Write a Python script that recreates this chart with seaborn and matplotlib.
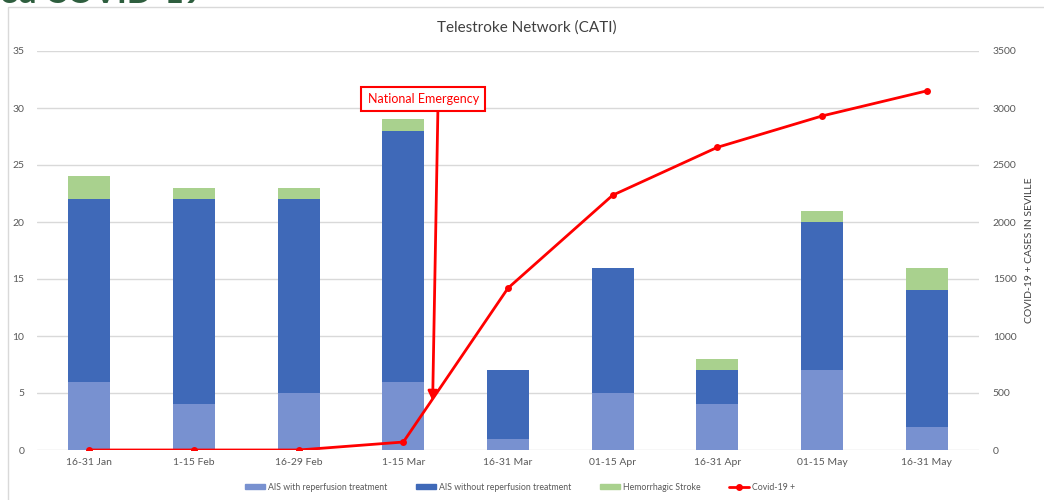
import numpy as np
import pandas as pd
import matplotlib
matplotlib.use("Agg")
import matplotlib.pyplot as plt
import seaborn as sns
from matplotlib.patches import Patch, Rectangle
from matplotlib.lines import Line2D

periods = ["16-31 Jan", "1-15 Feb", "16-29 Feb", "1-15 Mar", "16-31 Mar",
           "01-15 Apr", "16-31 Apr", "01-15 May", "16-31 May"]
ais_reperfusion = [6, 4, 5, 6, 1, 5, 4, 7, 2]
ais_no_reperfusion = [16, 18, 17, 22, 6, 11, 3, 13, 12]
hemorrhagic = [2, 1, 1, 1, 0, 0, 1, 1, 2]
covid_cases = [0, 0, 0, 70, 1420, 2235, 2655, 2930, 3150]

sns.set_theme(style="white")
plt.rcParams['font.family'] = ['Lato', 'DejaVu Sans']

c_light = "#7891D0"
c_dark = "#3F69B8"
c_green = "#A9D18E"
c_red = "#FF0000"
c_text = "#595959"

df = pd.DataFrame({
    "period": periods,
    "s1": ais_reperfusion,
    "s2": np.add(ais_reperfusion, ais_no_reperfusion),
    "s3": np.add(np.add(ais_reperfusion, ais_no_reperfusion), hemorrhagic),
})

fig = plt.figure(figsize=(10.44, 5), dpi=100)
# outer chart border
fig.patches.append(Rectangle((8/1044, -0.1), 1.2, 1 - 7/500 + 0.1, transform=fig.transFigure,
                             fill=False, edgecolor="#D9D9D9", linewidth=1.0))
# cut-off slide title
fig.text(0.0, 1 - 3/500, "ed COVID-19", color="#2E5E3E", fontsize=24, fontweight="bold",
         va="baseline", ha="left")

ax = fig.add_axes([37/1044, 0.1, (979-37)/1044, 0.798])
ax.set_axisbelow(True)
for col, color in [("s3", c_green), ("s2", c_dark), ("s1", c_light)]:
    sns.barplot(data=df, x="period", y=col, order=periods, color=color,
                width=0.4, saturation=1, ax=ax, linewidth=0, zorder=2)

ax.set_ylim(0, 35)
ax.set_xlim(-0.5, 8.5)
ax.set_yticks(range(0, 36, 5))
ax.yaxis.grid(True, color="#D9D9D9", linewidth=1)
ax.set_xlabel("")
ax.set_ylabel("")
for s in ax.spines.values():
    s.set_visible(False)
ax.tick_params(axis="both", length=0, labelsize=7.5, labelcolor=c_text)
ax.tick_params(axis="y", pad=9)
ax.tick_params(axis="x", pad=6)

ax2 = ax.twinx()
sns.lineplot(x=np.arange(len(periods)), y=covid_cases, ax=ax2, color=c_red,
             linewidth=2, marker="o", markersize=5, markeredgewidth=0, zorder=5)
ax2.set_ylim(0, 3500)
ax2.set_yticks(range(0, 3501, 500))
ax2.set_xlim(-0.5, 8.5)
for s in ax2.spines.values():
    s.set_visible(False)
ax2.tick_params(axis="y", length=0, labelsize=7.5, labelcolor=c_text, pad=10)
ax2.set_ylabel("COVID-19 + CASES IN SEVILLE", fontsize=7.5, color="#404040", labelpad=6)

fig.text(527/1044, 1 - 28/500, "Telestroke Network (CATI)", fontsize=11, color="#404040",
         ha="center", va="center")

# arrow and label box
ax2.annotate("", xy=(3.28, 4.3 * 100), xytext=(3.33, 29.7 * 100),
             arrowprops=dict(arrowstyle="-|>", color=c_red, lw=2, mutation_scale=14,
                             shrinkA=0, shrinkB=0), zorder=10)
ax2.text(3.19, 30.8 * 100, "National Emergency", ha="center", va="center", fontsize=9,
         color=c_red, zorder=11,
         bbox=dict(boxstyle="square,pad=0.5", fc="white", ec=c_red, lw=1.5))

handles = [Patch(color=c_light), Patch(color=c_dark), Patch(color=c_green),
           Line2D([0], [0], color=c_red, lw=2, marker="o", markersize=4)]
labels = ["AIS with reperfusion treatment", "AIS without reperfusion treatment",
          "Hemorrhagic Stroke", "Covid-19 +"]
fig.legend(handles, labels, loc="center", bbox_to_anchor=(520/1044, 1 - 487/500), ncol=4,
           frameon=False, fontsize=6.3, labelcolor=c_text, handlelength=2.3, handleheight=0.6,
           columnspacing=3.3, handletextpad=0.3)

fig.savefig("out.png", dpi=100)
